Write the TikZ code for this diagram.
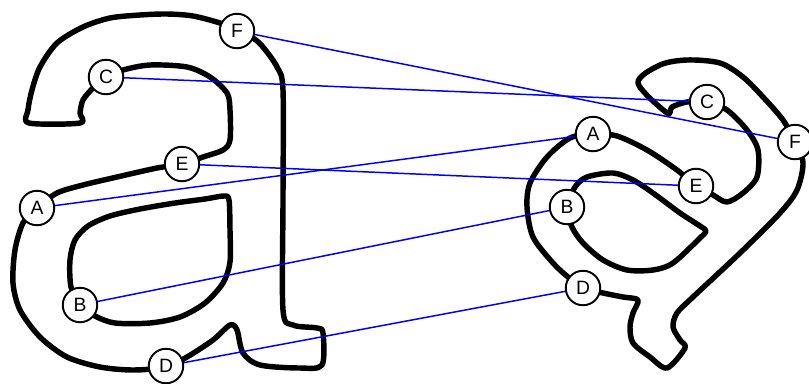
\documentclass[tikz,border=0pt]{standalone}
\usepackage{fontspec}
\setmainfont{Liberation Sans}
\usepackage{tikz}
\usetikzlibrary{positioning}
\definecolor{matchblue}{RGB}{0, 0, 255}
\definecolor{glyphblack}{RGB}{0, 0, 0}
\tikzset{
    glyph/.style={draw=glyphblack, line width=3.1pt, line join=round},
    landmark/.style={circle, draw=black, fill=white, line width=1.1pt,
        minimum size=0.69cm, inner sep=0pt, font=\fontsize{11}{13}\selectfont},
    match/.style={draw=matchblue, line width=0.85pt},
}

\begin{document}
\begin{tikzpicture}[x=0.02cm, y=-0.02cm]
    \useasboundingbox (0,0) rectangle (809,383);
    % upright letter
    \draw[glyph] plot[smooth cycle, tension=0.5] coordinates {
        (29,123) (80,123) (80,113) (83,100) (93,88) (106,77) (123,70) (150,65)
        (187,67) (210,77) (227,93) (230,110) (230,140) (223,150) (203,157)
        (183,164) (157,168) (117,177) (83,185) (57,193) (37,208) (23,223)
        (15,250) (13,283) (20,310) (40,337) (67,357) (100,367) (133,370)
        (166,367) (187,357) (213,340) (230,325) (237,330) (243,353) (260,365)
        (300,368) (322,365) (323,333) (317,328) (293,325) (283,310) (283,200)
        (283,90) (277,67) (263,47) (253,38) (237,30) (220,23) (193,16)
        (167,14) (140,15) (110,18) (83,27) (57,43) (40,67) (32,90) (28,110)};
    \draw[glyph] plot[smooth cycle, tension=0.5] coordinates {
        (224,196) (229,200) (230,230) (230,262) (223,283) (205,303) (180,317)
        (150,323) (115,323) (95,316) (80,305) (71,287) (70,260) (75,240)
        (88,226) (110,216) (140,209) (175,203) (205,199)};
    % turned letter
    \draw[glyph] plot[smooth cycle, tension=0.5] coordinates {
        (638,83) (667,113) (672,107) (687,102) (707,102) (727,110) (747,130)
        (758,150) (757,177) (743,193) (727,202) (713,195) (696,186) (677,170)
        (647,150) (617,136) (593,134) (570,138) (547,157) (530,183) (527,207)
        (533,237) (553,263) (568,277) (583,288) (603,293) (623,297) (638,300)
        (633,313) (630,327) (633,343) (650,357) (667,368) (685,348) (680,340)
        (673,327) (677,313) (693,297) (740,253) (780,213) (797,190) (803,163)
        (795,142) (783,120) (763,97) (743,77) (720,63) (687,60) (660,65)};
    \draw[glyph] plot[smooth cycle, tension=0.5] coordinates {
        (575,187) (587,177) (613,173) (633,180) (653,193) (680,213) (700,226)
        (706,231) (700,238) (673,263) (653,270) (627,270) (603,260) (583,243)
        (572,227) (567,207)};

    \node[landmark] (lF) at (237,31) {F};
    \node[landmark] (lC) at (106,77) {C};
    \node[landmark] (lE) at (182,164) {E};
    \node[landmark] (lA) at (37,208) {A};
    \node[landmark] (lB) at (80,305) {B};
    \node[landmark] (lD) at (166,366) {D};

    \node[landmark] (rC) at (707,102) {C};
    \node[landmark] (rA) at (593,134) {A};
    \node[landmark] (rF) at (795,142) {F};
    \node[landmark] (rE) at (696,186) {E};
    \node[landmark] (rB) at (567,207) {B};
    \node[landmark] (rD) at (583,288) {D};

    \foreach \p in {A,B,C,D,E,F}
        \draw[match] (l\p) -- (r\p);
\end{tikzpicture}
\end{document}
